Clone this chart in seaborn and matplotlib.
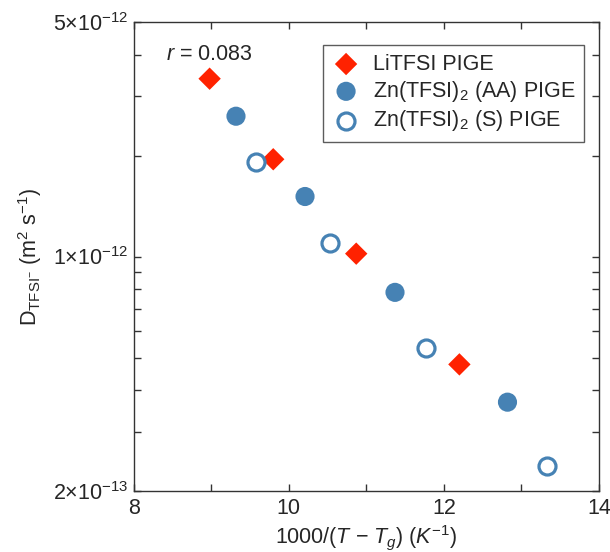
import matplotlib
matplotlib.use("Agg")
import matplotlib.pyplot as plt
import matplotlib.ticker as mticker
import seaborn as sns
import pandas as pd

# ---- data ----
li_x = [8.98, 9.80, 10.87, 12.20]
li_y = [3.39e-12, 1.95e-12, 1.02e-12, 4.77e-13]
aa_x = [9.32, 10.21, 11.37, 12.82]
aa_y = [2.62e-12, 1.51e-12, 7.82e-13, 3.68e-13]
s_x = [9.58, 10.53, 11.77, 13.33]
s_y = [1.91e-12, 1.095e-12, 5.35e-13, 2.375e-13]

labels = ["LiTFSI PIGE", r"Zn(TFSI)$_2$ (AA) PIGE", r"Zn(TFSI)$_2$ (S) PIGE"]
x_major = [8, 10, 12, 14]
x_minor = [9, 11, 13]
y_major = [2e-13, 1e-12, 5e-12]
y_major_labels = [r"$2{\times}10^{-13}$", r"$1{\times}10^{-12}$", r"$5{\times}10^{-12}$"]
y_minor = [3e-13, 4e-13, 5e-13, 6e-13, 7e-13, 8e-13, 9e-13, 2e-12, 3e-12, 4e-12]
annot = r"$r$ = 0.083"

sns.set_theme(style="white")
plt.rcParams["font.family"] = ["Liberation Sans", "DejaVu Sans"]
plt.rcParams["mathtext.fontset"] = "custom"
plt.rcParams["mathtext.rm"] = "Liberation Sans"
plt.rcParams["mathtext.it"] = "Liberation Sans:italic"
plt.rcParams["mathtext.bf"] = "Liberation Sans:bold"

FS = 15.5

df_li = pd.DataFrame({"x": li_x, "y": li_y})
df_aa = pd.DataFrame({"x": aa_x, "y": aa_y})
df_s = pd.DataFrame({"x": s_x, "y": s_y})

fig = plt.figure(figsize=(6.10, 5.52), dpi=100)
ax = fig.add_axes([0.219, 0.1105, 0.763, 0.8495])

red = "#FF2200"
blue = "#4682B4"

sns.scatterplot(data=df_li, x="x", y="y", ax=ax, marker="D", s=130, color=red,
                edgecolor="none", linewidth=0, label=labels[0], zorder=3)
sns.scatterplot(data=df_aa, x="x", y="y", ax=ax, marker="o", s=190, color=blue,
                edgecolor="none", linewidth=0, label=labels[1], zorder=3)
sns.scatterplot(data=df_s, x="x", y="y", ax=ax, marker="o", s=150, facecolor="white",
                edgecolor=blue, linewidth=2.3, label=labels[2], zorder=3)

ax.set_yscale("log")
ax.set_xlim(8, 14)
ax.set_ylim(2e-13, 5e-12)

ax.xaxis.set_major_locator(mticker.FixedLocator(x_major))
ax.xaxis.set_minor_locator(mticker.FixedLocator(x_minor))
ax.set_xticklabels([str(v) for v in x_major])
ax.yaxis.set_major_locator(mticker.FixedLocator(y_major))
ax.yaxis.set_major_formatter(mticker.FixedFormatter(y_major_labels))
ax.yaxis.set_minor_locator(mticker.FixedLocator(y_minor))
ax.yaxis.set_minor_formatter(mticker.NullFormatter())

ax.tick_params(which="both", direction="in", top=True, right=True, left=True, bottom=True,
               length=5, width=1.0, color="#333333", labelsize=FS, pad=4)
ax.tick_params(axis="x", which="major", pad=5)
for sp in ax.spines.values():
    sp.set_color("#333333")
    sp.set_linewidth(1.0)

ax.set_xlabel(r"1000/($\mathit{T}$ − $\mathit{T_g}$) $(\mathit{K}^{-1})$", fontsize=FS, labelpad=3)
ax.set_ylabel(r"D$_{\mathrm{TFSI}^{-}}$ (m$^{2}$ s$^{-1}$)", fontsize=FS, labelpad=6)

ax.text(0.07, 0.93, annot, transform=ax.transAxes, fontsize=FS, va="center", ha="left")

leg = ax.legend(loc="upper right", bbox_to_anchor=(0.968, 0.951), borderaxespad=0,
                frameon=True, fancybox=False, fontsize=FS, markerscale=1.0,
                handletextpad=0.6, labelspacing=0.2, borderpad=0.4, handlelength=1.3)
leg.get_frame().set_edgecolor("#333333")
leg.get_frame().set_linewidth(1.0)

fig.savefig("out.png", dpi=100)
